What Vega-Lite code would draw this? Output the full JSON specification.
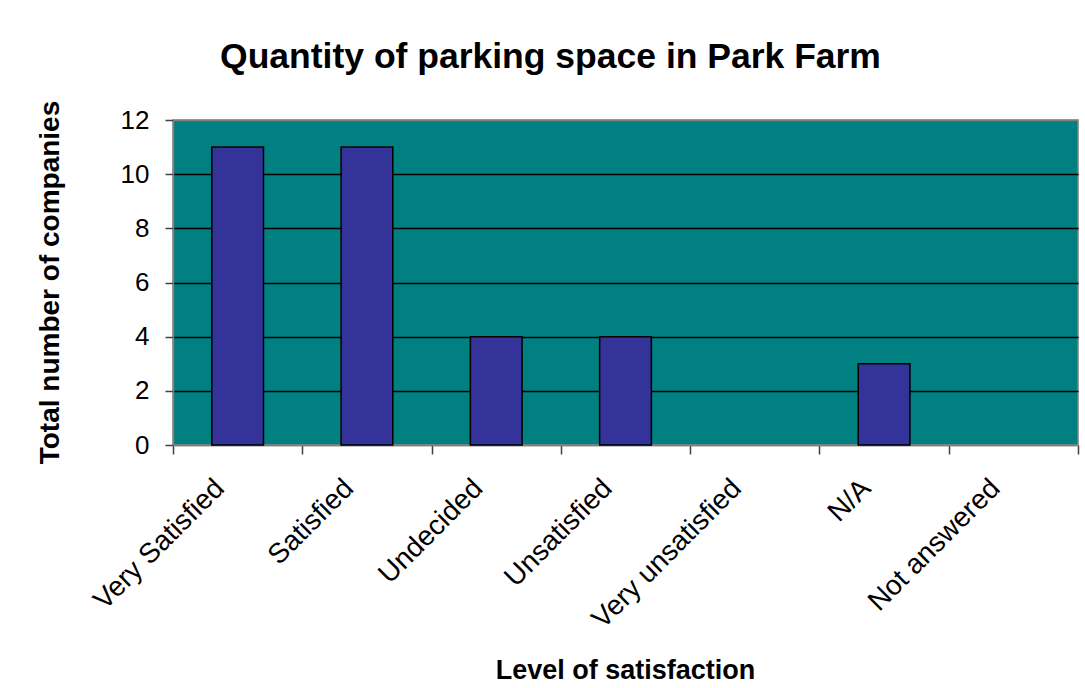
{
  "$schema": "https://vega.github.io/schema/vega-lite/v6.json",
  "width": 905,
  "height": 325,
  "autosize": {"type": "none"},
  "padding": {"left": 173, "top": 120, "right": 7, "bottom": 243},
  "background": "white",
  "title": {
    "text": "Quantity of parking space in Park Farm",
    "font": "Liberation Sans",
    "fontSize": 35.5,
    "fontWeight": "bold",
    "color": "black",
    "anchor": "middle",
    "baseline": "alphabetic",
    "offset": -3,
    "dx": -75
  },
  "config": {
    "view": {"fill": "#008080", "stroke": "#808080", "strokeWidth": 1.5},
    "axis": {
      "labelFont": "Liberation Sans",
      "titleFont": "Liberation Sans",
      "labelColor": "black",
      "titleColor": "black",
      "domainColor": "#808080",
      "domainWidth": 1.5,
      "tickColor": "#404040",
      "tickWidth": 1.5
    }
  },
  "data": {
    "values": [
      {"level": "Very Satisfied", "count": 11},
      {"level": "Satisfied", "count": 11},
      {"level": "Undecided", "count": 4},
      {"level": "Unsatisfied", "count": 4},
      {"level": "Very unsatisfied", "count": 0},
      {"level": "N/A", "count": 3},
      {"level": "Not answered", "count": 0}
    ]
  },
  "mark": {"type": "bar", "fill": "#333399", "strokeWidth": 1.5, "width": {"band": 0.4}},
  "encoding": {
    "x": {
      "field": "level",
      "type": "nominal",
      "sort": null,
      "scale": {"paddingInner": 0, "paddingOuter": 0},
      "axis": {
        "title": "Level of satisfaction",
        "titleFontSize": 27,
        "titleFontWeight": "bold",
        "titleX": 452,
        "titleY": 233,
        "titleBaseline": "alphabetic",
        "labelAngle": -45,
        "labelFontSize": 28,
        "labelPadding": 20,
        "labelOffset": -28,
        "labelLimit": 0,
        "tickBand": "extent",
        "tickSize": 9,
        "labelOverlap": false
      }
    },
    "y": {
      "field": "count",
      "type": "quantitative",
      "scale": {"domain": [0, 12], "nice": false},
      "axis": {
        "title": "Total number of companies",
        "titleFontSize": 28,
        "titleFontWeight": "bold",
        "titleX": -115,
        "titleY": 162,
        "titleBaseline": "alphabetic",
        "values": [0, 2, 4, 6, 8, 10, 12],
        "labelFontSize": 26,
        "labelPadding": 16,
        "tickSize": 8,
        "grid": true,
        "gridColor": {"condition": {"test": "datum.value == 12 || datum.value == 0", "value": "#808080"}, "value": "black"},
        "gridWidth": 1.5
      }
    },
    "stroke": {"condition": {"test": "datum.count == 0", "value": "transparent"}, "value": "black"}
  }
}
